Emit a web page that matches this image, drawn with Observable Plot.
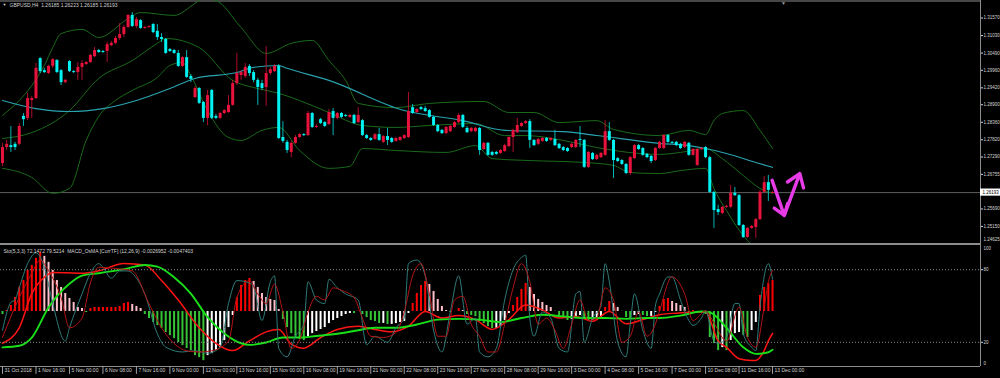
<!DOCTYPE html>
<html><head><meta charset="utf-8">
<script src="https://cdn.jsdelivr.net/npm/d3@7"></script>
<script src="https://cdn.jsdelivr.net/npm/@observablehq/plot@0.6"></script>
<style>
html,body{margin:0;padding:0;background:#000;}
#chart{position:relative;width:1000px;height:378px;overflow:hidden;background:#000;}
#chart svg{position:absolute;left:0;}
#sep{position:absolute;left:0;top:243px;width:981px;height:2px;background:#8c8c8c;}
</style></head><body><div id="chart"><div id="sep"></div></div>
<script>
// ---------- DATA ----------
const titleText = "GBPUSD,H4  1.26185 1.26223 1.26185 1.26193";
const legendText = "Sto(5,3,3) 72.1472 79.5214  MACD_OsMA [CurrTF] (12,26,9) -0.0026952 -0.0047403";
const currentPrice = 1.26193;
const priceMin = 1.24625, priceMax = 1.3211;
const priceTicks = [1.3157, 1.3103, 1.3049, 1.2996, 1.2942, 1.2890, 1.2836, 1.2782, 1.2729, 1.26755, 1.2569, 1.2515];
const xLabels = ["31 Oct 2018","1 Nov 16:00","5 Nov 00:00","6 Nov 08:00","7 Nov 16:00","9 Nov 00:00","12 Nov 00:00","13 Nov 16:00","15 Nov 00:00","16 Nov 08:00","19 Nov 16:00","21 Nov 00:00","22 Nov 08:00","23 Nov 16:00","27 Nov 00:00","28 Nov 08:00","29 Nov 16:00","3 Dec 00:00","4 Dec 08:00","5 Dec 16:00","7 Dec 00:00","10 Dec 08:00","11 Dec 16:00","13 Dec 00:00"];
const barsPerLabel = 8;
const shiftMarkerBar = 186.6;

const openP = [1.2709,1.2758,1.2764,1.2768,1.2768,1.2854,1.2848,1.2903,1.2909,1.3032,1.2995,1.2986,1.3008,1.3026,1.2995,1.2958,1.3023,1.2992,1.2989,1.3005,1.3014,1.3020,1.3038,1.3057,1.3054,1.3054,1.3072,1.3079,1.3094,1.3106,1.3128,1.3165,1.3131,1.3149,1.3125,1.3128,1.3137,1.3116,1.3097,1.3091,1.3060,1.3057,1.3048,1.3008,1.3035,1.2977,1.2912,1.2940,1.2897,1.2848,1.2934,1.2854,1.2848,1.2863,1.2866,1.2888,1.2955,1.2980,1.2977,1.3008,1.2989,1.2965,1.2955,1.2943,1.2986,1.2992,1.3008,1.2789,1.2774,1.2743,1.2771,1.2789,1.2798,1.2795,1.2863,1.2820,1.2844,1.2835,1.2829,1.2869,1.2848,1.2863,1.2857,1.2851,1.2857,1.2835,1.2841,1.2795,1.2786,1.2783,1.2798,1.2774,1.2792,1.2786,1.2777,1.2780,1.2786,1.2789,1.2881,1.2866,1.2881,1.2878,1.2872,1.2851,1.2826,1.2811,1.2801,1.2807,1.2820,1.2835,1.2857,1.2817,1.2807,1.2807,1.2817,1.2752,1.2771,1.2743,1.2743,1.2740,1.2746,1.2761,1.2789,1.2804,1.2823,1.2832,1.2838,1.2780,1.2768,1.2777,1.2786,1.2780,1.2783,1.2768,1.2758,1.2755,1.2758,1.2758,1.2783,1.2780,1.2697,1.2740,1.2721,1.2727,1.2734,1.2807,1.2780,1.2724,1.2718,1.2706,1.2678,1.2724,1.2764,1.2755,1.2737,1.2731,1.2718,1.2755,1.2755,1.2795,1.2774,1.2774,1.2768,1.2758,1.2771,1.2734,1.2703,1.2752,1.2758,1.2727,1.2620,1.2567,1.2555,1.2574,1.2574,1.2617,1.2610,1.2518,1.2481,1.2509,1.2512,1.2536,1.2620,1.2650,1.26185];
const highP = [1.2771,1.2780,1.2823,1.2774,1.2832,1.2863,1.2925,1.2915,1.3017,1.3035,1.3002,1.3011,1.3032,1.3029,1.2998,1.2968,1.3026,1.2995,1.3020,1.3026,1.3023,1.3045,1.3066,1.3060,1.3057,1.3082,1.3085,1.3100,1.3140,1.3134,1.3168,1.3174,1.3159,1.3152,1.3131,1.3134,1.3140,1.3137,1.3109,1.3094,1.3063,1.3060,1.3057,1.3038,1.3057,1.2983,1.2946,1.2943,1.2900,1.2934,1.2937,1.2860,1.2866,1.2875,1.2918,1.2965,1.3048,1.2995,1.3017,1.3014,1.2995,1.2971,1.2965,1.3069,1.3005,1.3014,1.3014,1.2838,1.2780,1.2777,1.2795,1.2801,1.2801,1.2869,1.2866,1.2829,1.2848,1.2838,1.2875,1.2878,1.2866,1.2866,1.2860,1.2860,1.2860,1.2881,1.2844,1.2798,1.2789,1.2801,1.2817,1.2795,1.2817,1.2789,1.2789,1.2792,1.2798,1.2928,1.2891,1.2878,1.2885,1.2885,1.2875,1.2854,1.2829,1.2814,1.2823,1.2826,1.2838,1.2863,1.2860,1.2823,1.2820,1.2820,1.2820,1.2774,1.2774,1.2746,1.2746,1.2752,1.2768,1.2792,1.2814,1.2848,1.2835,1.2841,1.2844,1.2783,1.2786,1.2789,1.2789,1.2789,1.2811,1.2771,1.2761,1.2758,1.2771,1.2783,1.2823,1.2783,1.2746,1.2743,1.2737,1.2743,1.2841,1.2835,1.2783,1.2727,1.2721,1.2709,1.2731,1.2768,1.2768,1.2758,1.2740,1.2734,1.2758,1.2777,1.2798,1.2798,1.2777,1.2777,1.2771,1.2777,1.2774,1.2755,1.2755,1.2758,1.2761,1.2731,1.2623,1.2580,1.2577,1.2580,1.2641,1.2635,1.2614,1.2521,1.2512,1.2518,1.2540,1.2626,1.2669,1.2672,1.26223];
const lowP = [1.2700,1.2749,1.2743,1.2749,1.2764,1.2823,1.2841,1.2848,1.2906,1.2986,1.2986,1.2983,1.3002,1.2986,1.2949,1.2955,1.2989,1.2986,1.2965,1.2965,1.3011,1.3017,1.3035,1.3048,1.3048,1.3020,1.3069,1.3075,1.3088,1.3097,1.3125,1.3128,1.3125,1.3122,1.3122,1.3125,1.3109,1.3088,1.3082,1.3045,1.3051,1.3045,1.3005,1.3005,1.2971,1.2958,1.2909,1.2891,1.2835,1.2826,1.2844,1.2844,1.2844,1.2860,1.2863,1.2885,1.2949,1.2965,1.2971,1.2977,1.2958,1.2888,1.2934,1.2885,1.2980,1.2989,1.2783,1.2771,1.2740,1.2727,1.2768,1.2786,1.2792,1.2792,1.2817,1.2817,1.2829,1.2820,1.2826,1.2795,1.2844,1.2848,1.2851,1.2848,1.2829,1.2832,1.2792,1.2783,1.2777,1.2780,1.2777,1.2771,1.2764,1.2771,1.2774,1.2777,1.2783,1.2786,1.2860,1.2863,1.2872,1.2866,1.2848,1.2823,1.2804,1.2798,1.2798,1.2804,1.2817,1.2832,1.2817,1.2801,1.2804,1.2804,1.2734,1.2749,1.2731,1.2731,1.2734,1.2737,1.2743,1.2758,1.2743,1.2801,1.2820,1.2829,1.2755,1.2761,1.2764,1.2774,1.2774,1.2777,1.2761,1.2752,1.2746,1.2743,1.2755,1.2755,1.2758,1.2694,1.2694,1.2718,1.2718,1.2724,1.2731,1.2777,1.2663,1.2712,1.2703,1.2675,1.2672,1.2721,1.2749,1.2731,1.2724,1.2709,1.2715,1.2752,1.2752,1.2771,1.2768,1.2761,1.2752,1.2755,1.2731,1.2731,1.2700,1.2749,1.2724,1.2617,1.2509,1.2549,1.2552,1.2571,1.2571,1.2607,1.2515,1.2478,1.2478,1.2506,1.2478,1.2533,1.2617,1.2592,1.26185];
const closeP = [1.2758,1.2768,1.2758,1.2758,1.2823,1.2844,1.2909,1.2909,1.3002,1.2992,1.2989,1.3008,1.3029,1.2989,1.2958,1.2965,1.2992,1.2989,1.3005,1.3017,1.3020,1.3042,1.3057,1.3051,1.3051,1.3075,1.3079,1.3094,1.3106,1.3128,1.3165,1.3131,1.3152,1.3125,1.3128,1.3131,1.3112,1.3097,1.3091,1.3048,1.3054,1.3048,1.3008,1.3035,1.2974,1.2968,1.2940,1.2894,1.2848,1.2918,1.2848,1.2848,1.2863,1.2872,1.2888,1.2955,1.2986,1.2989,1.3005,1.2986,1.2965,1.2943,1.2940,1.2986,1.2998,1.3008,1.2786,1.2777,1.2749,1.2771,1.2789,1.2798,1.2795,1.2863,1.2820,1.2823,1.2832,1.2823,1.2866,1.2848,1.2863,1.2851,1.2854,1.2857,1.2832,1.2857,1.2795,1.2786,1.2780,1.2798,1.2780,1.2792,1.2780,1.2774,1.2786,1.2789,1.2795,1.2869,1.2863,1.2875,1.2875,1.2869,1.2851,1.2826,1.2807,1.2801,1.2820,1.2823,1.2835,1.2857,1.2820,1.2804,1.2817,1.2817,1.2749,1.2771,1.2734,1.2734,1.2737,1.2749,1.2764,1.2789,1.2811,1.2826,1.2832,1.2838,1.2780,1.2764,1.2783,1.2786,1.2777,1.2786,1.2764,1.2755,1.2749,1.2746,1.2768,1.2780,1.2780,1.2697,1.2743,1.2721,1.2734,1.2740,1.2807,1.2780,1.2718,1.2715,1.2706,1.2678,1.2727,1.2764,1.2752,1.2734,1.2727,1.2715,1.2755,1.2774,1.2795,1.2774,1.2771,1.2764,1.2755,1.2774,1.2734,1.2752,1.2752,1.2755,1.2727,1.2620,1.2564,1.2558,1.2574,1.2577,1.2617,1.2610,1.2518,1.2481,1.2509,1.2515,1.2536,1.2620,1.2650,1.2626,1.26193];

// Bollinger bands (20,2) and moving average: [bar index, price]
const bbUpper = [[0,1.2857],[4,1.2903],[7,1.2949],[10,1.3011],[12,1.3066],[14,1.3109],[19,1.3122],[23,1.3097],[30,1.3155],[33,1.3174],[41,1.3165],[46,1.3202],[48,1.3217],[51,1.3211],[57,1.3128],[63,1.3048],[69,1.3079],[74,1.3088],[78,1.3026],[82,1.2965],[85,1.2894],[94,1.2881],[102,1.2894],[115,1.2900],[121,1.2866],[127,1.2866],[133,1.2835],[142,1.2841],[146,1.2814],[157,1.2795],[164,1.2811],[168,1.2798],[170,1.2841],[172,1.2863],[177,1.2872],[181,1.2811],[184,1.2755]];
const bbMiddle = [[0,1.2786],[7,1.2804],[16,1.2872],[23,1.2971],[31,1.3026],[37,1.3079],[39,1.3094],[47,1.3066],[55,1.2965],[60,1.2943],[63,1.2934],[66,1.2925],[71,1.2903],[78,1.2866],[86,1.2826],[94,1.2820],[102,1.2826],[113,1.2832],[120,1.2795],[125,1.2795],[134,1.2780],[142,1.2758],[157,1.2737],[162,1.2743],[168,1.2755],[172,1.2724],[177,1.2672],[181,1.2632],[184,1.2617]];
const bbLower = [[0,1.2694],[7,1.2666],[12,1.2617],[16,1.2632],[20,1.2780],[23,1.2854],[27,1.2903],[31,1.2934],[37,1.2974],[40,1.3011],[43,1.3020],[45,1.2980],[49,1.2872],[54,1.2789],[57,1.2780],[62,1.2811],[66,1.2820],[71,1.2749],[78,1.2694],[83,1.2700],[86,1.2755],[94,1.2749],[106,1.2743],[113,1.2764],[117,1.2724],[126,1.2718],[139,1.2712],[146,1.2703],[150,1.2681],[157,1.2678],[162,1.2687],[168,1.2694],[170,1.2632],[173,1.2564],[178,1.2472],[184,1.2426]];
const movingAvg = [[0,1.2903],[8,1.2878],[16,1.2869],[24,1.2878],[32,1.2903],[40,1.2940],[46,1.2971],[56,1.2989],[60,1.3005],[66,1.3011],[68,1.3002],[78,1.2965],[96,1.2872],[110,1.2841],[120,1.2811],[134,1.2807],[142,1.2795],[157,1.2771],[164,1.2764],[168,1.2755],[173,1.2740],[180,1.2712],[184,1.2697]];

// hand-drawn magenta arrows: [fromBar, fromPrice, toBar, toPrice]
const arrowsDrawn = [[183.9,1.2657,186.8,1.2549],[186.8,1.2549,190.5,1.2678]];

// Stochastic (5,3,3): [bar, value]
const stochK = [[0,30],[2,53],[3,55],[4,65],[6,85],[8,94],[10,82],[12,52],[15,21],[16,32],[19,60],[21,77],[23,85],[24,82],[26,73],[28,79],[30,79],[31,77],[34,60],[37,27],[39,16],[43,12],[46,13],[49,11],[52,16],[54,52],[56,71],[59,69],[60,66],[62,38],[64,70],[65,75],[66,15],[68,8],[70,25],[72,35],[73,70],[75,55],[77,52],[78,72],[80,65],[82,60],[85,55],[87,18],[89,25],[92,20],[94,32],[96,40],[97,85],[99,88],[101,75],[103,30],[105,12],[107,45],[109,75],[111,35],[113,40],[114,12],[116,8],[118,15],[120,55],[122,80],[124,90],[125,92],[126,40],[127,25],[129,45],[131,40],[133,15],[135,12],[137,60],[138,62],[139,20],[141,40],[143,50],[144,85],[145,70],[147,20],[149,8],[150,35],[151,60],[153,30],[155,15],[156,50],[157,60],[159,74],[160,74],[162,55],[164,38],[165,34],[167,40],[168,46],[170,21],[171,19],[173,24],[175,52],[176,52],[177,27],[179,16],[180,13],[181,49],[183,85],[184,72.1]];
const stochD = [[0,24],[4,57],[7,77],[9,88],[11,79],[14,57],[16,32],[19,40],[21,69],[23,82],[27,81],[31,79],[35,52],[38,32],[41,19],[44,13],[47,12],[50,13],[54,21],[56,57],[59,71],[61,60],[63,52],[65,68],[67,45],[69,15],[71,22],[73,45],[75,58],[77,55],[79,65],[81,63],[84,57],[86,40],[88,25],[91,24],[94,28],[96,45],[98,75],[100,85],[102,60],[104,25],[106,25],[108,55],[110,58],[112,35],[114,25],[116,12],[118,12],[120,35],[122,65],[124,85],[126,70],[128,35],[130,40],[132,30],[134,15],[136,35],[138,55],[140,38],[142,40],[144,65],[146,55],[148,20],[150,25],[152,45],[154,25],[156,35],[157,46],[160,74],[163,60],[165,38],[168,46],[170,36],[173,21],[176,49],[178,24],[180,16],[182,49],[183,70],[184,79.5]];

// MACD_OsMA (12,26,9), values in pips (1e-4): [bar, value]
const macdMain = [[0,-39],[4,-20],[7,22],[10,42],[12,48],[19,47],[23,50],[29,59],[34,57],[38,38],[42,14],[47,-20],[51,-39],[55,-48],[59,-36],[63,-25],[66,-22],[69,-40],[72,-45],[76,-32],[80,-22],[85,-18],[89,-22],[93,-25],[97,-18],[101,0],[105,-8],[109,-5],[113,-10],[117,-22],[121,-10],[125,8],[129,2],[133,-8],[137,-6],[141,-12],[145,0],[149,-15],[153,-10],[157,-4],[161,-2],[165,-1],[168,-1],[171,-36],[173,-44],[176,-58],[179,-60],[180,-60],[182,-48],[183,-36],[184,-27]];
const macdSignal = [[0,-44],[4,-42],[7,-32],[11,5],[16,34],[19,44],[23,47],[30,53],[34,57],[37,55],[41,42],[45,22],[49,-7],[53,-27],[57,-39],[59,-41],[63,-38],[67,-32],[71,-32],[75,-30],[79,-28],[84,-24],[89,-20],[94,-20],[99,-16],[104,-10],[109,-9],[114,-10],[119,-13],[124,-8],[129,-4],[134,-6],[139,-8],[144,-8],[149,-9],[154,-8],[157,-8],[162,-5],[167,0],[169,-1],[173,-20],[177,-44],[180,-52],[183,-50],[184,-47]];
const osma = [-3.7,1.2,7.4,17.2,29.5,38.1,50.4,56.6,65.2,72.6,67.7,60.3,50.4,38.1,29.5,22.1,16.0,11.1,4.9,3.7,-1.2,3.7,4.9,4.9,4.9,4.9,4.9,4.9,6.2,9.8,11.1,8.6,6.2,3.7,-3.7,-8.6,-13.5,-17.2,-20.9,-25.8,-29.5,-33.2,-38.1,-41.8,-45.5,-48.0,-54.1,-56.6,-60.3,-54.1,-51.7,-48.0,-44.3,-35.7,-19.7,-4.9,17.2,32.0,38.1,40.6,36.9,29.5,22.1,17.2,14.8,13.5,2.5,-9.8,-19.7,-27.1,-32.0,-34.4,-35.7,-30.8,-27.1,-24.6,-22.1,-19.7,-14.8,-11.1,-8.6,-6.2,-3.7,-2.5,-2.5,0.4,-3.7,-7.4,-11.1,-12.3,-14.8,-14.6,-16.0,-15.8,-14.8,-13.5,-12.3,-2.5,9.8,22.1,32.0,36.9,33.2,24.6,14.8,6.2,1.2,-1.2,0.3,3.7,1.2,-3.7,-4.9,-6.2,-12.3,-14.8,-18.5,-20.9,-20.6,-18.5,-11.1,-2.5,7.4,17.2,27.1,34.4,29.5,20.9,14.8,11.1,7.4,4.9,0.2,-4.9,-8.6,-11.1,-9.8,-6.2,-4.9,-9.8,-11.1,-10.9,-9.8,-7.4,4.9,12.3,9.8,4.9,0.2,-7.4,-8.6,-4.9,-3.7,-4.9,-6.2,-6.0,-1.2,6.2,14.8,16.0,12.3,9.8,7.4,4.9,-1.2,1.2,-2.5,-1.2,-3.7,-32.0,-39.4,-48.0,-44.3,-48.0,-35.7,-27.1,-25.8,-29.5,-32.0,-23.4,-13.5,19.7,29.5,34.4,38.1];
const stochLevels = [80, 20];

// ---------- DRAWING ----------
const FONT = "'Liberation Sans', Arial, sans-serif";
const pxPerBar = 4.185;
const xDomain = [-2 / pxPerBar, 978 / pxPerBar];
const W = 1000, MR = 20;
const bull = "#e8133c", bear = "#00f2f2";
const textCol = "#d4d4d4", frameCol = "#8c8c8c";
const axisFont = "4.5px", textFont = 5;

const bars = openP.map((o, i) => {
  const c = closeP[i];
  let top = Math.max(o, c), bot = Math.min(o, c);
  if (top - bot < 0.0003) bot = top - 0.0003;
  return {i, o, h: highP[i], l: lowP[i], c, top, bot, col: c >= o ? bull : bear};
});

const chart = document.getElementById("chart");
const common = {width: W, marginLeft: 0, marginRight: MR, color: {type: "identity"}};
const fmt5 = d3.format(".5f");

const topPlot = Plot.plot({
  ...common, height: 243, marginTop: 0, marginBottom: 0,
  style: {background: "transparent", color: textCol, fontFamily: FONT, fontSize: axisFont},
  x: {domain: xDomain, axis: null},
  y: {domain: [priceMin, priceMax], axis: "right", ticks: priceTicks, tickFormat: fmt5, tickSize: 2, tickPadding: 1, label: null},
  marks: [
    Plot.ruleY([priceMax], {stroke: frameCol, dy: 0.5}),
    Plot.ruleY([currentPrice], {stroke: "#5e5e5e"}),
    Plot.line(bbUpper, {x: d => d[0], y: d => d[1], stroke: "#1b6a1b", strokeWidth: 1, curve: "monotone-x", clip: true}),
    Plot.line(bbMiddle, {x: d => d[0], y: d => d[1], stroke: "#1b6a1b", strokeWidth: 1, curve: "monotone-x", clip: true}),
    Plot.line(bbLower, {x: d => d[0], y: d => d[1], stroke: "#1b6a1b", strokeWidth: 1, curve: "monotone-x", clip: true}),
    Plot.line(movingAvg, {x: d => d[0], y: d => d[1], stroke: "#2aa3b0", strokeWidth: 1.1, curve: "monotone-x", clip: true}),
    Plot.ruleX(bars, {x: "i", y1: "l", y2: "h", stroke: "col", strokeWidth: 1, strokeOpacity: 0.75}),
    Plot.ruleX(bars, {x: "i", y1: "bot", y2: "top", stroke: "col", strokeWidth: 3}),
    Plot.arrow(arrowsDrawn, {x1: d => d[0], y1: d => d[1], x2: d => d[2], y2: d => d[3], stroke: "#e63be6", strokeWidth: 3.4, headLength: 9, headAngle: 70}),
    Plot.ruleX([xDomain[1]], {stroke: frameCol}),
    Plot.text(["▼"], {x: shiftMarkerBar, frameAnchor: "top", dy: 0.5, fill: "#9a9a9a", fontSize: 5}),
    Plot.rect([currentPrice], {x1: xDomain[1], x2: xDomain[1] + MR / pxPerBar, y1: d => d - 0.0011, y2: d => d + 0.0011, fill: "#ffffff"}),
    Plot.text([currentPrice], {x: xDomain[1], y: d => d, text: d => fmt5(d), textAnchor: "start", dx: 2, fill: "#000000"}),
    Plot.text([priceMin], {x: xDomain[1], y: d => d, text: d => fmt5(d), textAnchor: "start", dx: 3, dy: -3, lineAnchor: "bottom", fill: textCol}),
    Plot.text(["▼"], {frameAnchor: "top-left", dx: 2, dy: 2.5, fill: textCol, fontSize: 4}),
    Plot.text([titleText], {frameAnchor: "top-left", dx: 9, dy: 2.5, fill: textCol, fontSize: textFont})
  ]
});
topPlot.style.top = "0px";
chart.appendChild(topPlot);

const lowerCommon = {...common, height: 133, marginTop: 0, marginBottom: 12};
const hist = osma.map((v, i) => {
  const prev = i > 0 ? osma[i - 1] : v;
  const col = v >= 0 ? (v >= prev ? "#ff0000" : "#ffc0cb") : (v <= prev ? "#36c436" : "#ffffff");
  return {i, v, col};
});

const macdPlot = Plot.plot({
  ...lowerCommon,
  style: {background: "transparent", color: textCol, fontFamily: FONT, fontSize: "5px"},
  x: {domain: xDomain, axis: null},
  y: {domain: [-67.5, 81], axis: null},
  marks: [
    Plot.ruleX(hist, {x: "i", y1: 0, y2: "v", stroke: "col", strokeWidth: 2}),
    Plot.line(macdMain, {x: d => d[0], y: d => d[1], stroke: "#ff1414", strokeWidth: 1.5, curve: "monotone-x"}),
    Plot.line(macdSignal, {x: d => d[0], y: d => d[1], stroke: "#19e019", strokeWidth: 1.9, curve: "monotone-x"})
  ]
});
macdPlot.style.top = "245px";
chart.appendChild(macdPlot);

const tickIdx = xLabels.map((_, k) => k * barsPerLabel);
const stochPlot = Plot.plot({
  ...lowerCommon,
  style: {background: "transparent", color: textCol, fontFamily: FONT, fontSize: axisFont},
  x: {domain: xDomain, axis: null},
  y: {domain: [0, 100], axis: "right", ticks: stochLevels, tickSize: 2, tickPadding: 1, label: null},
  marks: [
    Plot.ruleY(stochLevels, {stroke: "#8a8a8a", strokeDasharray: "1,2"}),
    Plot.line(stochK, {x: d => d[0], y: d => d[1], stroke: "#2f7c7a", strokeWidth: 1, curve: "monotone-x"}),
    Plot.line(stochD, {x: d => d[0], y: d => d[1], stroke: "#b51414", strokeWidth: 1, curve: "monotone-x"}),
    Plot.ruleY([0], {stroke: frameCol}),
    Plot.ruleX([xDomain[1]], {stroke: frameCol}),
    Plot.text(["100"], {x: xDomain[1], y: 100, text: d => d, textAnchor: "start", dx: 3, dy: 1, lineAnchor: "top", fill: textCol}),
    Plot.text(["0"], {x: xDomain[1], y: 0, text: d => d, textAnchor: "start", dx: 3, dy: -1.5, lineAnchor: "bottom", fill: textCol}),
    Plot.text([legendText], {frameAnchor: "top-left", dx: 3, dy: 3.5, fill: textCol, fontSize: textFont}),
    Plot.ruleX(tickIdx, {x: d => d, y1: 0, y2: -6.5, stroke: "#a0a0a0"}),
    Plot.text(tickIdx, {x: d => d, y: 0, text: d => xLabels[d / barsPerLabel], textAnchor: "start", lineAnchor: "top", dx: 2, dy: 2, fill: textCol, fontSize: textFont})
  ]
});
stochPlot.style.top = "245px";
chart.appendChild(stochPlot);
</script></body></html>
